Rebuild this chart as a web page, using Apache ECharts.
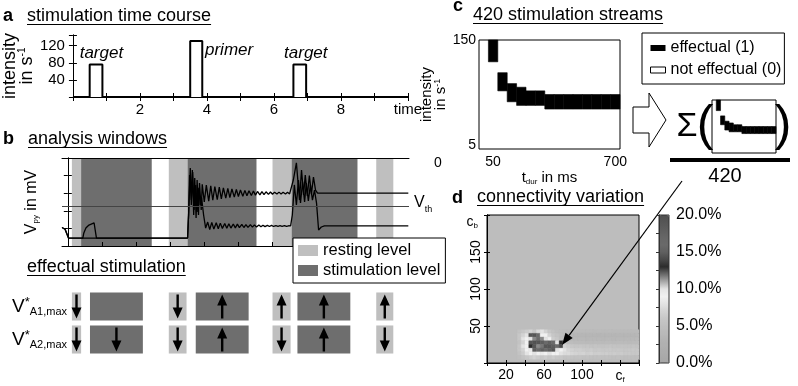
<!DOCTYPE html>
<html>
<head>
<meta charset="utf-8">
<script src="https://cdn.jsdelivr.net/npm/echarts@6/dist/echarts.min.js"></script>
<style>
  html, body { margin: 0; padding: 0; background: #fff; }
  #chart { width: 798px; height: 386px; }
</style>
</head>
<body>
<div id="chart"></div>
<script>
// panel a: stimulation pulses
const pulseStart = [0.5, 3.5, 6.58];
const pulseEnd = [0.88, 3.86, 6.96];
const pulseHeight = [76, 131, 76];
const pulseNames = ['target', 'primer', 'target'];
const pulseLabelAt = [[0.85, 103], [4.66, 110], [6.95, 103]];
const timeLabels = [2, 4, 6, 8];

// panel b: analysis windows and membrane traces
const bandStart = [0.12, 0.39, 2.96, 3.51, 6.0, 6.56, 9.04];
const bandEnd = [0.39, 2.46, 3.51, 5.53, 6.56, 8.49, 9.54];
const bandKind = [0, 1, 0, 1, 0, 1, 0]; // 0 resting, 1 stimulation
const vThreshold = -57.3;
const traceA1 = [
  [-0.17, -69.5], [-0.08, -70.5], [0.02, -75.5], [0.44, -75.5], [0.47, -72.6], [0.53, -69.8],
  [0.62, -68.1], [0.77, -66.9], [0.81, -67.5], [0.84, -75.5],
  [3.51, -75.5], [3.54, -62.4], [3.59, -35.7], [3.62, -56.7], [3.65, -36.9], [3.69, -62.4],
  [3.72, -41.4], [3.76, -64.1], [3.79, -42.5], [3.83, -62.4], [3.86, -44.2], [3.91, -59.5],
  [3.94, -45.0], [4.00, -55.0], [4.06, -45.4], [4.13, -54.5], [4.19, -45.8], [4.25, -54.0],
  [4.31, -46.2], [4.38, -53.6], [4.44, -46.6], [4.50, -53.2], [4.56, -47.0], [4.63, -52.8],
  [4.69, -47.3], [4.75, -52.5], [4.81, -47.6], [4.88, -52.2], [4.94, -47.9], [5.00, -51.9],
  [5.06, -48.2], [5.13, -51.7], [5.19, -48.4], [5.25, -51.5], [5.31, -48.6], [5.38, -51.3],
  [5.44, -48.8], [5.50, -51.1], [5.56, -49.0], [5.63, -50.9], [5.69, -49.1], [5.75, -50.8],
  [5.81, -49.2], [5.88, -50.7], [5.94, -49.3], [6.00, -50.6], [6.06, -49.4], [6.13, -50.5],
  [6.19, -49.4], [6.25, -50.5], [6.31, -49.5], [6.38, -50.5], [6.44, -49.5], [6.50, -50.4],
  [6.55, -50.0], [6.61, -42.5], [6.70, -32.8], [6.79, -53.9], [6.85, -36.8], [6.91, -51.0],
  [6.96, -39.7], [7.02, -51.5], [7.08, -40.0], [7.14, -50.5], [7.20, -40.8], [7.26, -48.2],
  [7.32, -50.0], [9.98, -50.0]
];
const traceA2 = [
  [-0.17, -69.5], [-0.08, -70.5], [0.02, -75.5], [3.51, -75.5], [3.54, -62.4], [3.57, -39.7],
  [3.62, -53.9], [3.66, -38.0], [3.70, -59.5], [3.75, -45.3], [3.79, -60.7], [3.84, -47.0],
  [3.88, -56.7], [3.92, -52.7], [3.98, -62.4], [4.04, -69.8],
  [4.10, -66.4], [4.16, -70.6], [4.22, -66.6], [4.28, -70.4], [4.35, -66.8], [4.41, -70.2],
  [4.47, -67.0], [4.53, -70.0], [4.60, -67.2], [4.66, -69.9], [4.72, -67.4], [4.78, -69.8],
  [4.85, -67.5], [4.91, -69.7], [4.97, -67.6], [5.03, -69.6], [5.10, -67.7], [5.16, -69.5],
  [5.22, -67.8], [5.28, -69.4], [5.35, -67.9], [5.41, -69.3], [5.47, -68.0], [5.53, -69.2],
  [5.60, -68.1], [5.66, -69.1], [5.72, -68.2], [5.78, -69.0], [5.85, -68.3], [5.91, -68.9],
  [5.97, -68.3], [6.03, -68.9], [6.10, -68.4], [6.16, -68.8], [6.22, -68.4], [6.28, -68.8],
  [6.35, -68.4], [6.41, -68.8], [6.47, -68.5], [6.53, -68.6],
  [6.58, -62.4], [6.64, -45.3], [6.70, -56.7], [6.76, -42.5], [6.82, -55.6], [6.88, -43.6],
  [6.94, -55.0], [6.99, -44.2], [7.05, -54.4], [7.11, -45.3], [7.17, -53.9], [7.23, -48.2],
  [7.29, -55.6], [7.35, -70.9], [7.43, -69.2], [7.52, -68.6], [9.98, -68.6]
];

// effectual stimulation windows and arrow directions (1 up, -1 down, 0 none)
const effStart = [0.12, 0.65, 2.96, 3.75, 6.0, 6.73, 9.04];
const effEnd = [0.39, 2.20, 3.48, 5.30, 6.53, 8.28, 9.54];
const effKind = [0, 1, 0, 1, 0, 1, 0];
const effA1 = [-1, 0, -1, 1, 1, 1, 1];
const effA2 = [-1, -1, -1, 1, -1, 1, -1];

// panel c: effectual region per stimulus duration
const durations = [50, 100, 150, 200, 250, 300, 350, 400, 450, 500, 550, 600, 650, 700];
const effLow = [120, 80, 65, 60, 60, 60, 55, 55, 55, 55, 55, 55, 55, 55];
const effHigh = [150, 105, 90, 85, 80, 80, 75, 75, 75, 75, 75, 75, 75, 75];

// panel d: connectivity variation (percent), cells 4 wide (c_f) x 5 high (c_b)
const heatX = [32, 36, 40, 44, 48, 52, 56, 60, 64, 68, 72, 76, 80, 84, 88, 92, 96, 100,
  104, 108, 112, 116, 120, 124, 128, 132, 136, 140, 144, 148, 152, 156];
const heatY = [40, 35, 30, 25, 20, 15, 10, 5];
const heatRows = [
  [5.5, 6, 6.5, 7, 6, 7.5, 8, 7, 6, 5.5, 5, 4.8, 4.6, 4.5, 4.4, 4.4, 4.3, 4.4, 4.3, 4.3, 4.2, 4.3, 4.2, 4.2, 4.3, 4.2, 4.1, 4.2, 4.1, 4.1, 4.2, 4.1],
  [6, 7, 8, 19, 19, 16, 9, 9, 7, 6, 5.5, 5, 4.5, 3.8, 3.6, 3.7, 3.5, 3.6, 3.5, 3.6, 3.5, 3.4, 3.5, 3.6, 3.5, 3.4, 3.5, 3.6, 3.5, 3.5, 3.6, 3.7],
  [6, 8, 9, 8, 11.5, 12, 11.5, 8, 9, 6.5, 6, 5, 5, 4.0, 3.9, 3.8, 3.9, 3.8, 3.7, 3.8, 3.9, 3.8, 3.7, 3.8, 3.8, 3.7, 3.8, 3.9, 3.8, 3.8, 3.9, 4.0],
  [5.5, 7, 9, 19, 19.5, 19, 18, 16, 15, 12, 8, 13, 6, 5.0, 4.6, 4.4, 4.3, 4.4, 4.2, 4.3, 4.4, 4.3, 4.2, 4.3, 4.3, 4.2, 4.3, 4.4, 4.3, 4.2, 4.3, 4.4],
  [6, 8, 9, 13, 19, 11.5, 11.8, 19, 19, 18, 16, 12.5, 7, 6.5, 6.0, 5.8, 5.9, 5.6, 5.7, 5.5, 5.6, 5.5, 5.4, 5.5, 5.6, 5.5, 5.4, 5.5, 5.4, 5.4, 5.5, 5.4],
  [6, 7, 9, 8.5, 15, 16, 15, 16, 15, 19, 8, 9, 8, 7.2, 6.8, 6.5, 6.6, 6.3, 6.2, 6.4, 6.1, 6.2, 6.0, 6.1, 6.2, 6.0, 6.1, 6.0, 5.9, 6.0, 6.1, 6.0],
  [5.5, 6.5, 8, 9, 8, 9, 8.5, 9, 8, 9, 9, 8, 7.5, 7.5, 7.2, 7.0, 6.8, 7.0, 6.6, 6.8, 6.5, 6.6, 6.4, 6.5, 6.3, 6.4, 6.2, 6.3, 6.1, 6.2, 6.0, 6.0],
  [5, 5.5, 6, 6.5, 7, 6.5, 6, 6.5, 6, 6.5, 6, 6, 5.5, 5.6, 5.5, 5.4, 5.5, 5.3, 5.4, 5.2, 5.3, 5.2, 5.1, 5.2, 5.1, 5.0, 5.1, 5.0, 4.9, 5.0, 4.9, 4.9]
];
const cmap = ['#a6a6a6', '#aaaaaa', '#aeaeae', '#b2b2b2', '#b9b9b9', '#bfbfbf', '#c7c7c7',
  '#d3d3d3', '#e3e3e3', '#f1f1f1', '#e4e4e4', '#a8a8a8', '#6a6a6a', '#2c2c2c', '#4a4a4a',
  '#606060', '#6a6a6a', '#666666', '#5e5e5e', '#565656', '#505050'];

const REST = '#bfbfbf';
const STIM = '#6e6e6e';
const FONT = '"Liberation Sans", Arial, sans-serif';
const ARROW = 'path://M5,0 L10,11 L6.2,11 L6.2,24 L3.8,24 L3.8,11 L0,11 Z';

const chart = echarts.init(document.getElementById('chart'));

const pulseLine = [[0, 0]];
pulseStart.forEach((s, i) => {
  pulseLine.push([s, 0], [s, pulseHeight[i]], [pulseEnd[i], pulseHeight[i]], [pulseEnd[i], 0]);
});
pulseLine.push([10, 0]);

const effBoxes = [];
const effArrows = [];
[effA1, effA2].forEach((dirs, row) => {
  effStart.forEach((s, i) => {
    effBoxes.push([s, effEnd[i], row, effKind[i]]);
    if (dirs[i] !== 0) {
      effArrows.push({ value: [(s + effEnd[i]) / 2, row], symbolRotate: dirs[i] > 0 ? 0 : 180 });
    }
  });
});

const blocks = durations.map((d, i) => [d, effLow[i], effHigh[i]]);

const heatData = [];
heatY.forEach((y, r) => heatX.forEach((x, c) => heatData.push([x, y, heatRows[r][c]])));

const line = { lineStyle: { color: '#000', width: 1 } };
const tickIn = (len) => ({ inside: true, length: len, lineStyle: { color: '#000' } });
const off = { show: false };

function renderBlock(params, api) {
  const a = api.coord([api.value(0), api.value(2)]);
  const b = api.coord([api.value(0) + 50, api.value(1)]);
  return { type: 'rect', shape: { x: a[0], y: a[1], width: b[0] - a[0], height: b[1] - a[1] },
    style: { fill: '#000', stroke: '#000', lineWidth: 0.6 } };
}

// text helpers for annotation
const mctx = document.createElement('canvas').getContext('2d');
function textWidth(s, font) { mctx.font = font; return mctx.measureText(s).width; }
function txt(x, y, text, font, align) {
  return { type: 'text', x: x, y: y, z: 10, style: { text: text, font: font, fill: '#000',
    textAlign: align || 'left', textVerticalAlign: 'middle', verticalAlign: 'middle' } };
}
function title(x, y, text) {
  const f = '18px ' + FONT;
  return [txt(x, y, text, f), { type: 'line', z: 10, shape: { x1: x, y1: y + 8.5, x2: x + textWidth(text, f), y2: y + 8.5 }, style: { stroke: '#000', lineWidth: 1 } }];
}
const bold = 'bold 18px ' + FONT;

const arrowFrom = [682, 181];
const arrowTip = [562, 345];
const dx = arrowTip[0] - arrowFrom[0], dy = arrowTip[1] - arrowFrom[1];
const dl = Math.sqrt(dx * dx + dy * dy);
const ux = dx / dl, uy = dy / dl;
const baseX = arrowTip[0] - 12 * ux, baseY = arrowTip[1] - 12 * uy;

const graphics = [
  txt(3, 16, 'a', bold), txt(3, 139, 'b', bold), txt(453, 6, 'c', bold), txt(452, 198, 'd', bold),
  ...title(27, 16, 'stimulation time course'),
  ...title(28, 139, 'analysis windows'),
  ...title(27, 267, 'effectual stimulation'),
  ...title(473, 15, '420 stimulation streams'),
  ...title(477, 197, 'connectivity variation'),
  txt(438, 163, '0', '14px ' + FONT, 'center'),
  { type: 'polygon', z: 10, shape: { points: [[633, 107], [649, 107], [649, 93], [666, 120], [649, 147], [649, 133], [633, 133]] },
    style: { fill: '#fff', stroke: '#000', lineWidth: 1 } },
  txt(687, 127, '\u03A3', '34px ' + FONT, 'center'),
  txt(705, 126, '(', '50px ' + FONT, 'center'),
  txt(783, 126, ')', '50px ' + FONT, 'center'),
  { type: 'rect', z: 10, shape: { x: 670, y: 158, width: 120, height: 4 }, style: { fill: '#000' } },
  txt(725, 176, '420', '20px ' + FONT, 'center'),
  { type: 'line', z: 10, shape: { x1: arrowFrom[0], y1: arrowFrom[1], x2: baseX, y2: baseY }, style: { stroke: '#000', lineWidth: 1.2 } },
  { type: 'polygon', z: 10, shape: { points: [arrowTip, [baseX + 4.5 * uy, baseY - 4.5 * ux], [baseX - 4.5 * uy, baseY + 4.5 * ux]] }, style: { fill: '#000' } }
];

const option = {
  animation: false,
  backgroundColor: '#fff',
  textStyle: { fontFamily: FONT, color: '#000' },
  grid: [
    { left: 67, top: 35, width: 341, height: 62 },
    { left: 62, top: 158, width: 347, height: 88 },
    { left: 62, top: 290, width: 347, height: 66 },
    { left: 479, top: 40, width: 141, height: 109, show: true, borderColor: '#000', borderWidth: 1 },
    { left: 712, top: 100, width: 64, height: 53, show: true, borderColor: '#000', borderWidth: 1 },
    { left: 487, top: 215, width: 152, height: 148, show: true, backgroundColor: '#bdbdbd', borderColor: '#000', borderWidth: 1 },
    { left: 659, top: 215, width: 10, height: 148, show: true, z: 6, backgroundColor: 'transparent', borderColor: '#333', borderWidth: 1 }
  ],
  xAxis: [
    { gridIndex: 0, type: 'value', min: 0, max: 10, interval: 1, axisLine: line, axisTick: tickIn(4), splitLine: off,
      axisLabel: { fontSize: 15, color: '#000', margin: 5,
        formatter: (v) => (v === 10 ? 'time' : (timeLabels.includes(v) ? String(v) : '')) } },
    { gridIndex: 0, type: 'value', position: 'top', min: 0, max: 10, interval: 1, axisLine: line, axisTick: tickIn(4), splitLine: off, axisLabel: off },
    { gridIndex: 1, type: 'value', min: -0.17, max: 10, z: 3, axisLine: line, splitLine: off, axisLabel: off,
      axisTick: { inside: true, length: 4, lineStyle: { color: '#000' }, customValues: [1, 2, 3, 4, 5, 6, 7, 8, 9] } },
    { gridIndex: 1, type: 'value', position: 'top', min: -0.17, max: 10, z: 3, axisLine: line, axisTick: off, splitLine: off, axisLabel: off },
    { gridIndex: 2, type: 'value', min: -0.17, max: 10, show: false },
    { gridIndex: 3, type: 'value', min: 0, max: 750, interval: 25, axisLine: off, axisTick: off, splitLine: off,
      axisLabel: { fontSize: 14, color: '#000', margin: 6, formatter: (v) => (v === 75 ? '50' : (v === 725 ? '700' : '')) },
      name: '{t|t}{s|dur}{t| in ms}', nameLocation: 'middle', nameGap: 10,
      nameTextStyle: { rich: { t: { fontSize: 15, color: '#000' }, s: { fontSize: 8, color: '#000', padding: [8, 0, 0, 0] } } } },
    { gridIndex: 4, type: 'value', min: 0, max: 750, show: false },
    { gridIndex: 5, type: 'value', min: 0, max: 160, interval: 20, z: 3, axisLine: line, axisTick: tickIn(3), splitLine: off,
      axisLabel: { fontSize: 14, color: '#000', margin: 5,
        formatter: (v) => (v === 140 ? '{i|c}{s|f}' : ([20, 60, 100].includes(v) ? String(v) : '')),
        rich: { i: { fontSize: 14, color: '#000' }, s: { fontSize: 8, color: '#000', padding: [8, 0, 0, 0] } } } },
    { gridIndex: 5, type: 'value', position: 'top', min: 0, max: 160, interval: 20, z: 3, axisLine: line, axisTick: tickIn(3), splitLine: off, axisLabel: off },
    { gridIndex: 6, type: 'value', min: 0, max: 1, show: false }
  ],
  yAxis: [
    { gridIndex: 0, type: 'value', min: 0, max: 145, interval: 40, axisLine: line, axisTick: tickIn(4), splitLine: off,
      axisLabel: { fontSize: 15, color: '#000', margin: 8, formatter: (v) => (v > 0 && v <= 120 ? String(v) : '') },
      name: 'intensity\nin s{sup|-1}', nameLocation: 'middle', nameRotate: 90, nameGap: 31,
      nameTextStyle: { fontSize: 18, color: '#000', lineHeight: 17, rich: { sup: { fontSize: 10, padding: [0, 0, 9, 0] } } } },
    { gridIndex: 0, type: 'value', position: 'right', min: 0, max: 145, interval: 40, axisLine: line, axisTick: tickIn(4), splitLine: off, axisLabel: off },
    { gridIndex: 1, type: 'value', min: -80, max: -30, interval: 10, z: 3, axisLine: line, axisTick: tickIn(4), splitLine: off, axisLabel: off,
      name: '{a|V}{b|py}{a| in mV}', nameLocation: 'middle', nameRotate: 90, nameGap: 22,
      nameTextStyle: { rich: { a: { fontSize: 16, color: '#000' }, b: { fontSize: 8, color: '#000', padding: [8, 0, 0, 0] } } } },
    { gridIndex: 1, type: 'value', position: 'right', min: -80, max: -30, interval: 10, z: 3, axisLine: line, axisTick: tickIn(4), splitLine: off, axisLabel: off },
    { gridIndex: 2, type: 'category', data: ['A1', 'A2'], inverse: true, axisLine: off, axisTick: off, splitLine: off,
      axisLabel: { margin: -5, formatter: (v) => '{v|V}{st|*}{sb|' + v + ',max}',
        rich: { v: { fontSize: 19, color: '#000' }, st: { fontSize: 13, color: '#000', padding: [0, 0, 9, 0] },
          sb: { fontSize: 11, color: '#000', padding: [10, 0, 0, 0] } } } },
    { gridIndex: 3, type: 'value', min: 0, max: 150, interval: 5, axisLine: off, axisTick: off, splitLine: off,
      axisLabel: { fontSize: 14, color: '#000', margin: 3, formatter: (v) => (v === 5 || v === 150 ? String(v) : '') },
      name: 'intensity\nin s{sup|-1}', nameLocation: 'middle', nameRotate: 90, nameGap: 16,
      nameTextStyle: { fontSize: 15, color: '#000', lineHeight: 14, rich: { sup: { fontSize: 9, padding: [0, 0, 8, 0] } } } },
    { gridIndex: 4, type: 'value', min: 0, max: 150, show: false },
    { gridIndex: 5, type: 'value', min: 0, max: 200, interval: 50, z: 3, axisLine: line, axisTick: tickIn(3), splitLine: off,
      axisLabel: { fontSize: 14, color: '#000', margin: 4, rotate: 90, formatter: (v) => ([50, 100, 150].includes(v) ? String(v) : '') },
      name: '{i|c}{s|b}', nameLocation: 'end', nameGap: -7,
      nameTextStyle: { align: 'right', verticalAlign: 'middle', padding: [0, 9, 0, 0],
        rich: { i: { fontSize: 14, color: '#000' }, s: { fontSize: 8, color: '#000', padding: [8, 0, 0, 0] } } } },
    { gridIndex: 5, type: 'value', position: 'right', min: 0, max: 200, interval: 50, z: 3, axisLine: line, axisTick: tickIn(3), splitLine: off, axisLabel: off },
    { gridIndex: 6, type: 'value', position: 'right', min: 0, max: 20, interval: 2.5, z: 10,
      axisLine: { lineStyle: { color: '#333' } }, axisTick: { inside: true, length: 3, lineStyle: { color: '#333' } }, splitLine: off,
      axisLabel: { fontSize: 16, color: '#000', margin: 7, formatter: (v) => (v % 5 === 0 ? v.toFixed(1) + '%' : '') } }
  ],
  visualMap: {
    type: 'continuous', min: 0, max: 20, seriesIndex: 11, dimension: 2, calculable: false, hoverLink: false,
    left: 659, top: 215, itemWidth: 10, itemHeight: 148, padding: 0, z: 1,
    inRange: { color: cmap }
  },
  legend: [
    { data: ['resting level', 'stimulation level'], left: 293, top: 238, orient: 'vertical', icon: 'rect',
      itemWidth: 20, itemHeight: 11, itemGap: 3, padding: [4, 5, 4, 5], borderColor: '#000', borderWidth: 1,
      backgroundColor: '#fff', selectedMode: false, textStyle: { fontSize: 16.5, color: '#000' } },
    { data: [{ name: 'effectual (1)' }, { name: 'not effectual (0)', itemStyle: { color: '#fff', borderColor: '#000', borderWidth: 1 } }],
      left: 642, top: 33, orient: 'vertical', icon: 'rect', itemWidth: 15, itemHeight: 6, itemGap: 6,
      padding: [7, 3, 6, 8], borderColor: '#000', borderWidth: 1, backgroundColor: '#fff', selectedMode: false,
      textStyle: { fontSize: 16, color: '#000' } }
  ],
  series: [
    { type: 'line', xAxisIndex: 0, yAxisIndex: 0, data: pulseLine, showSymbol: false, silent: true,
      lineStyle: { color: '#000', width: 2 } },
    { type: 'line', xAxisIndex: 2, yAxisIndex: 2, data: traceA1, showSymbol: false, silent: true,
      lineStyle: { color: '#000', width: 1.3 },
      markArea: { silent: true, data: bandStart.map((s, i) => [{ xAxis: s, itemStyle: { color: bandKind[i] ? STIM : REST } }, { xAxis: bandEnd[i] }]) },
      markLine: { silent: true, symbol: 'none', data: [{ yAxis: vThreshold }], lineStyle: { color: '#444', width: 1, type: 'solid' },
        label: { show: true, position: 'end', distance: 5, formatter: '{v|V}{s|th}',
          rich: { v: { fontSize: 16, color: '#000', padding: [0, 0, 6, 0] }, s: { fontSize: 9, color: '#000', padding: [6, 0, 0, 0] } } } } },
    { type: 'line', xAxisIndex: 2, yAxisIndex: 2, data: traceA2, showSymbol: false, silent: true,
      lineStyle: { color: '#000', width: 1.3 } },
    { type: 'scatter', name: 'resting level', xAxisIndex: 2, yAxisIndex: 2, data: [], itemStyle: { color: REST, opacity: 1 } },
    { type: 'scatter', name: 'stimulation level', xAxisIndex: 2, yAxisIndex: 2, data: [], itemStyle: { color: STIM, opacity: 1 } },
    { type: 'custom', xAxisIndex: 4, yAxisIndex: 4, data: effBoxes, encode: { x: [0, 1], y: 2 }, silent: true,
      renderItem: (params, api) => {
        const row = api.value(2);
        const a = api.coord([api.value(0), row]);
        const b = api.coord([api.value(1), row]);
        const h = api.size([0, 1])[1] * 0.85;
        return { type: 'rect', shape: { x: a[0], y: a[1] - h / 2, width: b[0] - a[0], height: h },
          style: { fill: api.value(3) ? STIM : REST } };
      } },
    { type: 'scatter', xAxisIndex: 4, yAxisIndex: 4, data: effArrows, symbol: ARROW, symbolSize: [10, 24],
      itemStyle: { color: '#000', opacity: 1 }, silent: true, z: 3 },
    { type: 'custom', xAxisIndex: 5, yAxisIndex: 5, data: blocks, encode: { x: 0, y: [1, 2] }, renderItem: renderBlock, silent: true },
    { type: 'custom', xAxisIndex: 6, yAxisIndex: 6, data: blocks, encode: { x: 0, y: [1, 2] }, renderItem: renderBlock, silent: true },
    { type: 'scatter', name: 'effectual (1)', xAxisIndex: 5, yAxisIndex: 5, data: [], itemStyle: { color: '#000', opacity: 1 } },
    { type: 'scatter', name: 'not effectual (0)', xAxisIndex: 5, yAxisIndex: 5, data: [], itemStyle: { color: '#fff', opacity: 1 } },
    { type: 'custom', xAxisIndex: 7, yAxisIndex: 7, data: heatData, encode: { x: 0, y: 1 }, silent: true,
      renderItem: (params, api) => {
        const a = api.coord([api.value(0), api.value(1) + 5]);
        const b = api.coord([api.value(0) + 4, api.value(1)]);
        const c = api.visual('color');
        return { type: 'rect', shape: { x: a[0], y: a[1], width: b[0] - a[0], height: b[1] - a[1] },
          style: { fill: c, stroke: c, lineWidth: 0.4 } };
      } },
    // pulse name labels in panel a
    { type: 'scatter', xAxisIndex: 0, yAxisIndex: 0, silent: true, symbolSize: 0,
      itemStyle: { opacity: 1, color: '#000' },
      data: pulseLabelAt.map((p, i) => ({ value: p, name: pulseNames[i] })),
      label: { show: true, position: [0, 0], align: 'center', verticalAlign: 'middle', formatter: '{b}',
        fontSize: 17, fontStyle: 'italic', color: '#000', textBorderWidth: 0 } }
  ],
  graphic: graphics
};

chart.setOption(option);
</script>
</body>
</html>
